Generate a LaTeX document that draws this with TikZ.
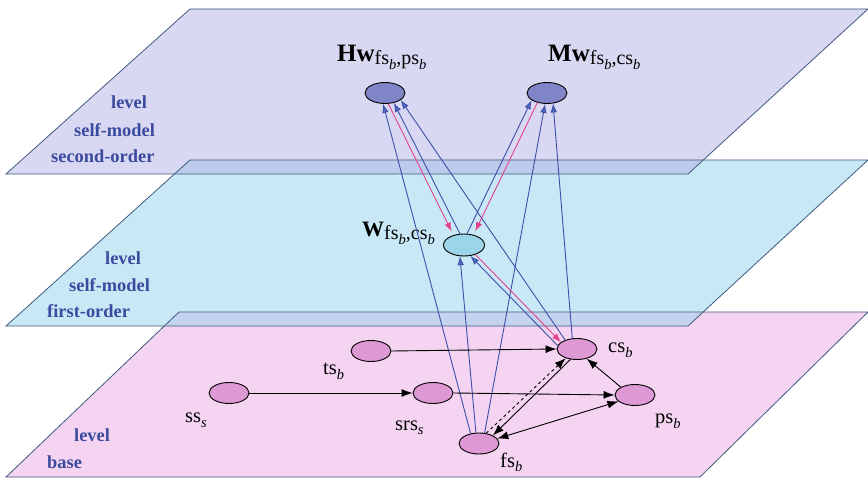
\documentclass[tikz,border=0pt]{standalone}
\usepackage{fontspec}
\setmainfont{Liberation Serif}
\usetikzlibrary{arrows.meta,shapes.geometric}

\definecolor{topfill}{HTML}{D9D8F2}
\definecolor{cyanfill}{HTML}{C9E8F6}
\definecolor{pinkfill}{HTML}{F4D4F0}
\definecolor{overTC}{HTML}{BDCBEC}
\definecolor{overCP}{HTML}{C4D4EF}
\definecolor{planeedge}{HTML}{3E5A80}
\definecolor{upperfill}{HTML}{8085C8}
\definecolor{midfill}{HTML}{9BD5EA}
\definecolor{basefill}{HTML}{DE98D4}
\definecolor{blueln}{HTML}{3D4FAA}
\definecolor{bluetip}{HTML}{5368C2}
\definecolor{pinkln}{HTML}{E5428C}
\definecolor{lvlblue}{HTML}{3A4A9E}

% italic subscript letter
\newcommand\lowi[1]{\raisebox{-0.24em}{\fontsize{14.5}{14.5}\selectfont\itshape #1}}
% subscript text of the bold state names
\newcommand\subtxt[1]{\raisebox{-0.28em}{\fontsize{20}{20}\selectfont #1}}

\begin{document}
\begin{tikzpicture}[x=1pt,y=-1pt,
  state/.style={ellipse, draw=black, line width=0.9pt, minimum width=40pt,
                minimum height=21pt, inner sep=0pt},
  basenode/.style={state, fill=basefill},
  blink/.style={draw=blueln, line width=0.9pt,
                -{Latex[length=9pt,width=6.5pt,fill=bluetip]}},
  plink/.style={draw=pinkln, line width=0.9pt,
                -{Latex[length=9pt,width=6.5pt]}},
  blk/.style={draw=black, line width=0.9pt, -{Latex[length=11pt,width=8pt]}},
  lvl/.style={anchor=base west, inner sep=0pt, text=lvlblue,
              font=\fontsize{18.4}{18.4}\selectfont\bfseries},
  lbl/.style={anchor=base west, inner sep=0pt, font=\fontsize{20.5}{20.5}\selectfont},
  plane/.style={draw=planeedge, line width=0.8pt}
]
\useasboundingbox (0,0) rectangle (868,478);

% the three levels
\fill[pinkfill] (179,312) -- (868,312) -- (700,477) -- (6,477) -- cycle;
\fill[cyanfill] (190,160) -- (868,160) -- (688,326) -- (6,326) -- cycle;
\fill[topfill]  (190,9) -- (868,9) -- (688,174) -- (6,174) -- cycle;
\fill[overTC] (190,160) -- (703,160) -- (688,174) -- (175,174) -- cycle;
\fill[overCP] (179,312) -- (703,312) -- (688,326) -- (165,326) -- cycle;
\draw[plane] (179,312) -- (868,312) -- (700,477) -- (6,477) -- cycle;
\draw[plane] (190,160) -- (868,160) -- (688,326) -- (6,326) -- cycle;
\draw[plane] (190,9) -- (868,9) -- (688,174) -- (6,174) -- cycle;

% level names
\node[lvl] (l2a) at (111,109) {level};
\node[lvl] (l2b) at (74,137) {self-model};
\node[lvl] (l2c) at (51,163) {second-order};
\node[lvl] (l1a) at (105,265) {level};
\node[lvl] (l1b) at (69,292) {self-model};
\node[lvl] (l1c) at (47,318) {first-order};
\node[lvl] (l0a) at (74,442) {level};
\node[lvl] (l0b) at (47,468) {base};

% states
\node[state, fill=upperfill] (H) at (385,93) {};
\node[state, fill=upperfill] (M) at (547,93) {};
\node[state, fill=midfill, minimum width=41pt, minimum height=22pt] (W) at (464,245) {};
\node[basenode] (cs) at (577,349) {};
\node[basenode] (ts) at (371,351) {};
\node[basenode] (ss) at (229,393) {};
\node[basenode] (srs) at (433,393) {};
\node[basenode] (ps) at (635,395) {};
\node[basenode] (fs) at (479,443.5) {};

% state labels
\node[anchor=base west, inner sep=0pt] (Hl) at (337,62)
  {{\fontsize{25}{25}\selectfont\bfseries Hw}\subtxt{fs\lowi{b},ps\lowi{b}}};
\node[anchor=base west, inner sep=0pt] (Ml) at (548,62)
  {{\fontsize{25}{25}\selectfont\bfseries Mw}\subtxt{fs\lowi{b},cs\lowi{b}}};
\node[anchor=base west, inner sep=0pt] (Wl) at (362,237)
  {{\fontsize{22}{22}\selectfont\bfseries W}\subtxt{fs\lowi{b},cs\lowi{b}}};
\node[lbl] (csl) at (608,353) {cs\lowi{b}};
\node[lbl] (tsl) at (323,375) {ts\lowi{b}};
\node[lbl] (ssl) at (185,423) {ss\lowi{s}};
\node[lbl] (srsl) at (395,430) {srs\lowi{s}};
\node[lbl] (psl) at (655,424) {ps\lowi{b}};
\node[lbl] (fsl) at (500,467) {fs\lowi{b}};

% upward links
\draw[blink] (fs.130) -- (H.260);
\draw[blink] (fs.106) -- (W.250);
\draw[blink] (fs.62) -- (M.260);
\draw[blink] (cs.143) -- (H.336);
\draw[blink] (cs.170) -- (W.300);
\draw[blink] (cs.114) -- (M.300);
\draw[blink] (W.110) -- (H.312);
\draw[blink] (W.75) -- (M.205);

% downward links
\draw[plink, shorten >=4pt] (H.287) -- (W.137);
\draw[plink, shorten >=4pt] (M.225) -- (W.47);
\draw[plink] (W.320) -- (cs.157);

% base level links
\draw[blk] (ts.east) -- (cs.west);
\draw[blk] (ss.east) -- (srs.west);
\draw[blk] (srs.east) -- (ps.west);
\draw[blk] (ps.151) -- (cs.315);
\draw[blk] (cs.238) -- (fs.30);
\draw[blk, dashed] (fs.55) -- (cs.219);
\draw[blk, {Latex[length=11pt,width=8pt]}-{Latex[length=11pt,width=8pt]}] (fs.15) -- (ps.201);
\end{tikzpicture}
\end{document}
